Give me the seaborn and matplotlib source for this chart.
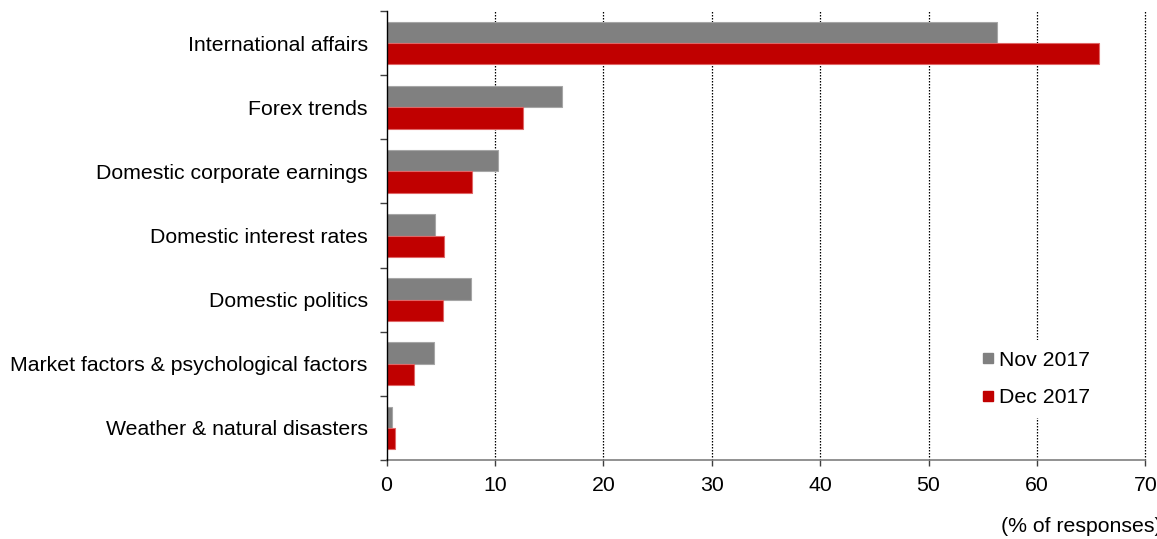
import matplotlib
matplotlib.use("Agg")
import matplotlib.pyplot as plt
import seaborn as sns
import pandas as pd
import numpy as np
from matplotlib.lines import Line2D

categories = ["International affairs", "Forex trends", "Domestic corporate earnings",
              "Domestic interest rates", "Domestic politics",
              "Market factors & psychological factors", "Weather & natural disasters"]
nov_2017 = [56.3, 16.2, 10.3, 4.5, 7.8, 4.4, 0.5]
dec_2017 = [65.7, 12.6, 7.9, 5.3, 5.2, 2.5, 0.8]
series_names = ["Nov 2017", "Dec 2017"]
x_ticks = [0, 10, 20, 30, 40, 50, 60, 70]

df = pd.DataFrame({
    "category": categories * 2,
    "value": nov_2017 + dec_2017,
    "series": [series_names[0]] * len(categories) + [series_names[1]] * len(categories),
})

sns.set_theme(style="white")
plt.rcParams["font.family"] = ["Liberation Sans", "DejaVu Sans"]
plt.rcParams["text.color"] = "black"
plt.rcParams["xtick.color"] = "black"
plt.rcParams["ytick.color"] = "black"
FS = 15.3

W, H = 1157, 539
fig = plt.figure(figsize=(W / 100, H / 100), dpi=100)
ax = fig.add_axes([386.5 / W, 1 - 460 / H, (1145.3 - 386.5) / W, (460 - 11) / H])

colors = {"Nov 2017": "#808080", "Dec 2017": "#C00000"}
sns.barplot(data=df, x="value", y="category", hue="series", orient="h",
            palette=colors, saturation=1, width=0.667, ax=ax, legend=False, zorder=3)
edge = {"Nov 2017": "#a6a6a6", "Dec 2017": "#e06666"}
for i, cont in enumerate(ax.containers):
    for p in cont:
        p.set_edgecolor(edge[series_names[i]])
        p.set_linewidth(0.8)

ax.set_xlim(0, 70)
ax.set_ylim(len(categories) - 0.5, -0.5)
ax.set_xticks(x_ticks)
ax.set_xticklabels([str(t) for t in x_ticks], fontsize=FS)
ax.set_yticks(range(len(categories)))
ax.set_yticklabels(categories, fontsize=FS)
ax.set_yticks(np.arange(-0.5, len(categories), 1), minor=True)
ax.tick_params(axis="y", which="major", length=0, pad=13.5, labelcolor="black")
ax.tick_params(axis="y", which="minor", length=5, width=1, color="#404040", left=True)
ax.tick_params(axis="x", which="major", length=4.3, width=1, color="#404040",
               pad=7, bottom=True, labelcolor="black")
ax.set_xlabel("")
ax.set_ylabel("")

for x in x_ticks[1:]:
    ax.axvline(x, color="black", lw=0.9, ls=(0, (1.2, 1.2)), zorder=1, clip_on=False)

for s in ["top", "right"]:
    ax.spines[s].set_visible(False)
ax.spines["left"].set_color("black")
ax.spines["left"].set_linewidth(1)
ax.spines["bottom"].set_color("#7f7f7f")
ax.spines["bottom"].set_linewidth(1.2)
ax.spines["left"].set_zorder(5)

handles = [Line2D([0], [0], marker="s", color="none", markerfacecolor=colors[n],
                  markeredgecolor=colors[n], markersize=7.5, label=n) for n in series_names]
leg = ax.legend(handles=handles, loc="center left",
                bbox_to_anchor=(972 / W, 1 - 379 / H), bbox_transform=fig.transFigure,
                fontsize=FS, frameon=True, facecolor="white", edgecolor="none",
                framealpha=1, fancybox=False, handlelength=0.5, handletextpad=0.25,
                labelspacing=0.88, borderpad=0.5, borderaxespad=0)
leg.set_zorder(6)

fig.text(1000.7 / W, 1 - 527 / H, "(% of responses)", fontsize=FS, ha="left", va="center")

fig.savefig("out.png", dpi=100)
